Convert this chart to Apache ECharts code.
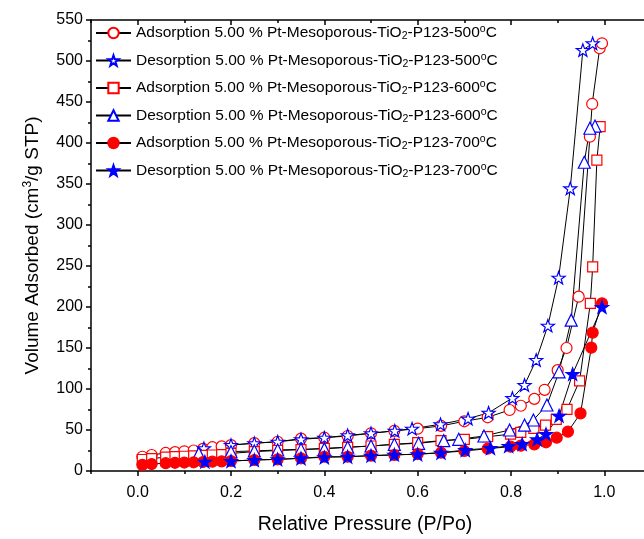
<!DOCTYPE html>
<html>
<head>
<meta charset="utf-8">
<script src="https://cdn.jsdelivr.net/npm/echarts@6/dist/echarts.min.js"></script>
<style>html,body{margin:0;padding:0;background:#fff}#c{width:644px;height:539px}</style>
</head>
<body>
<div id="c"></div>
<script>
// ---- data ----
var xA500 = [0.01,0.03,0.06,0.08,0.10,0.12,0.14,0.16,0.18,0.20,0.25,0.30,0.35,0.40,0.45,0.50,0.55,0.60,0.65,0.70,0.75,0.797,0.821,0.85,0.872,0.90,0.919,0.945,0.969,0.974,0.99,0.995];
var yA500 = [17.4,19.5,22,23,24,25,27,29,30,31.5,34,35.7,39.5,40.6,42.7,46,49,51.6,55,60.6,65.5,74.4,79.6,88,99,123,150,212.6,407.7,447.6,515.5,521.6];
var xD500 = [0.975,0.954,0.927,0.902,0.879,0.854,0.829,0.803,0.752,0.708,0.649,0.588,0.551,0.50,0.45,0.40,0.35,0.30,0.25,0.20,0.142];
var yD500 = [521.6,513.4,344.7,235.7,177.2,135.4,104.9,89,71,63.8,57,51.6,49,46,43.5,40.6,38.6,35.7,33.8,31.7,27.7];
var xA600 = [0.01,0.03,0.06,0.08,0.10,0.12,0.14,0.16,0.18,0.20,0.25,0.30,0.35,0.40,0.45,0.50,0.55,0.60,0.65,0.70,0.75,0.799,0.821,0.849,0.874,0.897,0.92,0.947,0.97,0.975,0.984,0.991];
var yA600 = [14,15,17,17.5,18,18.5,19,19.5,20,21.5,23.6,25,26,27.7,28.9,30.5,32.5,34.5,37,38.6,41.8,45,47.2,52,56,63,75.2,110,204.5,249,379,420];
var xD600 = [0.98,0.969,0.957,0.929,0.903,0.877,0.848,0.829,0.797,0.742,0.688,0.656,0.602,0.55,0.50,0.45,0.40,0.35,0.30,0.25,0.20,0.131];
var yD600 = [420.7,418,376.5,184,121,80.5,62.2,56,50,42.7,38.6,37,33.8,32.5,30.5,29,27,26.4,25.6,24.5,23.6,21.5];
var xA700 = [0.01,0.03,0.06,0.08,0.10,0.12,0.14,0.16,0.18,0.20,0.25,0.30,0.35,0.40,0.45,0.50,0.55,0.60,0.65,0.70,0.75,0.799,0.821,0.85,0.875,0.898,0.922,0.949,0.972,0.975,0.995];
var yA700 = [7.5,8.5,9.5,10,10.3,10.6,11,11.4,11.8,12.2,13.4,14.2,15.5,17.4,17.4,18.7,19.5,20.7,22.3,24.4,27.2,29.7,30.9,32.5,35,40.6,48,70.3,150.4,168.7,204.5];
var xD700 = [0.995,0.932,0.903,0.875,0.856,0.824,0.795,0.756,0.702,0.65,0.60,0.55,0.50,0.45,0.40,0.35,0.30,0.25,0.20,0.144];
var yD700 = [200,118.3,67.4,45,38.6,32.9,30.5,28,25.6,22.3,20.3,19.9,18.7,17.4,16.7,15.5,14.2,13.4,12.2,11.4];

var seriesNames = ['A500','D500','A600','D600','A700','D700'];
var legendLabels = {
  A500: ['Adsorption', '500'], D500: ['Desorption', '500'],
  A600: ['Adsorption', '600'], D600: ['Desorption', '600'],
  A700: ['Adsorption', '700'], D700: ['Desorption', '700']
};
var xMajor = [0.0,0.2,0.4,0.6,0.8,1.0];
var xMinor = [-0.1,0.1,0.3,0.5,0.7,0.9,1.1];

function pairs(xs, ys){ return xs.map(function(x,i){ return [x, ys[i]]; }); }

var STAR = 'path://M0,-10L2.35,-3.24L9.51,-3.09L3.8,1.24L5.88,8.09L0,4L-5.88,8.09L-3.8,1.24L-9.51,-3.09L-2.35,-3.24Z';
var FONT = '"Liberation Sans", Arial, sans-serif';
var RED = '#ff0000', BLUE = '#0000ff';

function mk(name, xs, ys, symbol, size, stroke, fill){
  return {
    name: name, type: 'line', data: pairs(xs, ys),
    symbol: symbol, symbolSize: size, symbolKeepAspect: true, showSymbol: true,
    lineStyle: {color: '#000', width: 1},
    itemStyle: {color: fill, borderColor: stroke, borderWidth: 1.2},
    emphasis: {disabled: true}, animation: false, clip: false
  };
}

var chart = echarts.init(document.getElementById('c'), null, {renderer: 'canvas'});
var axisBase = {
  type: 'value', min: -0.1, max: 1.1, splitLine: {show: false}
};
chart.setOption({
  animation: false,
  grid: {left: 91, top: 20, width: 560, height: 451, outerBoundsMode: 'none', containLabel: false},
  legend: {
    orient: 'vertical', left: 95, top: 24, padding: 0, itemWidth: 35, itemHeight: 13, itemGap: 9.5,
    data: seriesNames,
    formatter: function(n){
      var l = legendLabels[n];
      return '{a|' + l[0] + ' 5.00 % Pt-Mesoporous-TiO}{sub|2}{a|-P123-' + l[1] + '}{sup|o}{a|C}';
    },
    textStyle: {
      color: '#000', fontFamily: FONT, fontSize: 15.5,
      rich: {
        a: {fontSize: 15.5, fontFamily: FONT, color: '#000', lineHeight: 18},
        sub: {fontSize: 10.5, fontFamily: FONT, color: '#000', lineHeight: 10, verticalAlign: 'bottom'},
        sup: {fontSize: 10.5, fontFamily: FONT, color: '#000', lineHeight: 10, verticalAlign: 'top'}
      }
    }
  },
  xAxis: [
    Object.assign({}, axisBase, {
      position: 'bottom',
      name: 'Relative Pressure (P/Po)', nameLocation: 'middle', nameGap: 44,
      nameTextStyle: {fontFamily: FONT, fontSize: 19.5, color: '#000', padding: [0, 12, 0, 0]},
      axisLine: {show: true, onZero: false, lineStyle: {color: '#000', width: 1.5}},
      axisTick: {show: true, inside: false, length: 5, customValues: xMajor, lineStyle: {color: '#000', width: 1.5}},
      axisLabel: {show: true, margin: 14, customValues: xMajor, fontFamily: FONT, fontSize: 16, color: '#000',
        formatter: function(v){ return v.toFixed(1); }}
    }),
    Object.assign({}, axisBase, {
      position: 'bottom', gridIndex: 0,
      axisLine: {show: false, onZero: false},
      axisTick: {show: true, inside: false, length: 3, customValues: xMinor, lineStyle: {color: '#000', width: 1.5}},
      axisLabel: {show: false}
    }),
    Object.assign({}, axisBase, {
      position: 'top', gridIndex: 0,
      axisLine: {show: true, onZero: false, lineStyle: {color: '#000', width: 1.5}},
      axisTick: {show: true, inside: true, length: 5, customValues: xMajor, lineStyle: {color: '#000', width: 1.5}},
      axisLabel: {show: false}
    }),
    Object.assign({}, axisBase, {
      position: 'top', gridIndex: 0,
      axisLine: {show: false, onZero: false},
      axisTick: {show: true, inside: true, length: 3, customValues: xMinor, lineStyle: {color: '#000', width: 1.5}},
      axisLabel: {show: false}
    })
  ],
  yAxis: [{
    type: 'value', min: 0, max: 550, interval: 50,
    name: 'Volume Adsorbed (cm{sup|3}/g STP)', nameLocation: 'middle', nameGap: 47,
    nameTextStyle: {fontFamily: FONT, fontSize: 19, color: '#000',
      rich: {sup: {fontSize: 12, fontFamily: FONT, color: '#000', padding: [0,0,10,0]}}},
    axisLine: {show: true, onZero: false, lineStyle: {color: '#000', width: 1.5}},
    axisTick: {show: true, inside: false, length: 5, lineStyle: {color: '#000', width: 1.5}},
    minorTick: {show: true, splitNumber: 2, length: 3, lineStyle: {color: '#000', width: 1.5}},
    axisLabel: {margin: 8, fontFamily: FONT, fontSize: 16, color: '#000'},
    splitLine: {show: false}
  }],
  series: [
    mk('A500', xA500, yA500, 'circle', 11, RED, '#fff'),
    mk('D500', xD500, yD500, STAR, 13, BLUE, '#fff'),
    mk('A600', xA600, yA600, 'rect', 10, RED, '#fff'),
    mk('D600', xD600, yD600, 'triangle', 12, BLUE, '#fff'),
    mk('A700', xA700, yA700, 'circle', 11, RED, RED),
    mk('D700', xD700, yD700, STAR, 13, BLUE, BLUE)
  ]
});
</script>
</body>
</html>
